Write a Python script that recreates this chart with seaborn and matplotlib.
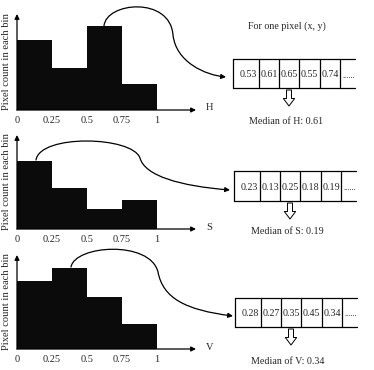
import matplotlib
matplotlib.use("Agg")
import matplotlib.pyplot as plt
import seaborn as sns
import numpy as np
from matplotlib.path import Path
from matplotlib.patches import FancyArrowPatch

# Histogram data (relative pixel counts per bin) for H, S and V
bin_edges = [0, 0.25, 0.5, 0.75, 1.0]
h_counts = [70, 42, 84, 26]
s_counts = [68, 41, 20, 29]
v_counts = [68, 81, 52, 25]
tick_labels = ["0", "0.25", "0.5", "0.75", "1"]

# Per-pixel sample values shown in the boxes
h_values = ["0.53", "0.61", "0.65", "0.55", "0.74"]
s_values = ["0.23", "0.13", "0.25", "0.18", "0.19"]
v_values = ["0.28", "0.27", "0.35", "0.45", "0.34"]
medians = ["Median of H: 0.61", "Median of S: 0.19", "Median of V: 0.34"]
channels = ["H", "S", "V"]

sns.set_style("white")
plt.rcParams["font.family"] = ["Liberation Serif", "DejaVu Serif"]

W, H = 374, 370
fig = plt.figure(figsize=(W / 100, H / 100), dpi=100)

# panel geometry in pixels: (top of y axis, baseline)
panels = [(14, 110), (135, 229), (255, 349)]
x_left, x_right, px_per_unit = 17, 196, 140

for (top, base), counts in zip(panels, [h_counts, s_counts, v_counts]):
    ax = fig.add_axes([x_left / W, (H - base) / H, (x_right - x_left) / W, (base - top) / H])
    centers = [e + 0.125 for e in bin_edges[:-1]]
    sns.histplot(x=centers, weights=counts, bins=bin_edges, color="#0b0b0b",
                 edgecolor="#0b0b0b", linewidth=0, alpha=1, ax=ax)
    ax.set_xlim(0, (x_right - x_left) / px_per_unit)
    ax.set_ylim(0, base - top)
    for sp in ax.spines.values():
        sp.set_visible(False)
    ax.set_xticks(bin_edges)
    ax.set_xticklabels(tick_labels, fontsize=7.5)
    ax.tick_params(axis="x", length=0, pad=4)
    ax.set_yticks([])
    ax.set_ylabel("Pixel count in each bin", fontsize=7.6, labelpad=4)
    ax.set_xlabel("")
    ax.patch.set_alpha(0)
    ax.annotate("", xy=(0, 1), xytext=(0, 0), xycoords="axes fraction",
                arrowprops=dict(arrowstyle="-|>", lw=0.9, color="black",
                                mutation_scale=7, shrinkA=0, shrinkB=0))
    ax.annotate("", xy=(1, 0), xytext=(0, 0), xycoords="axes fraction",
                arrowprops=dict(arrowstyle="-|>", lw=0.9, color="black",
                                mutation_scale=7, shrinkA=0, shrinkB=0))

# overlay in pixel coordinates for the diagram parts
ov = fig.add_axes([0, 0, 1, 1])
ov.set_xlim(0, W)
ov.set_ylim(H, 0)
ov.axis("off")
ov.patch.set_alpha(0)

ov.text(287, 26, "For one pixel (x, y)", ha="center", va="center", fontsize=7.2)

curves = [
    [(104, 26), (106, 2), (170, -4), (173, 35), (176, 62), (205, 75), (226, 77)],
    [(36, 160), (40, 134), (132, 136), (140, 158), (145, 176), (180, 186), (230, 190)],
    [(71, 267), (75, 245), (150, 240), (158, 272), (163, 298), (185, 310), (233, 316)],
]
codes = [Path.MOVETO] + [Path.CURVE4] * 6
for verts in curves:
    p = FancyArrowPatch(path=Path(verts, codes), arrowstyle="-|>", lw=0.9,
                        color="black", mutation_scale=7)
    ov.add_patch(p)

boxes = [(233, 59, 88), (234, 171, 201), (235, 298, 327)]
cell_edges = [0, 26, 46, 66, 87, 107]
for (x0, y0, y1), vals, med, ch, (top, base) in zip(boxes, [h_values, s_values, v_values],
                                                    medians, channels, panels):
    ov.plot([x0, x0 + 122], [y0, y0], color="black", lw=0.9)
    ov.plot([x0, x0 + 122], [y1, y1], color="black", lw=0.9)
    for e in cell_edges:
        ov.plot([x0 + e, x0 + e], [y0, y1], color="black", lw=0.9)
    ym = (y0 + y1) / 2 + 1
    for i, v in enumerate(vals):
        xc = x0 + (cell_edges[i] + cell_edges[i + 1]) / 2 + (2 if i == 0 else 0)
        ov.text(xc, ym, v, ha="center", va="center", fontsize=7.2)
    ov.text(x0 + cell_edges[-1] + 2, ym + 1, "......", ha="left", va="center", fontsize=6)
    # hollow down arrow
    ov.annotate("", xy=(x0 + 56, y1 + 18), xytext=(x0 + 56, y1 + 2),
                arrowprops=dict(arrowstyle="simple,head_width=0.9,head_length=0.6,tail_width=0.4",
                                fc="white", ec="black", lw=0.7, mutation_scale=9,
                                shrinkA=0, shrinkB=0))
    ov.text(x0 + 53, y1 + 34 if ch != "S" else y1 + 31, med, ha="center", va="center", fontsize=7.2)
    ov.text(206, base - 2, ch, ha="left", va="center", fontsize=7.5)

fig.savefig("out.png", dpi=100)
